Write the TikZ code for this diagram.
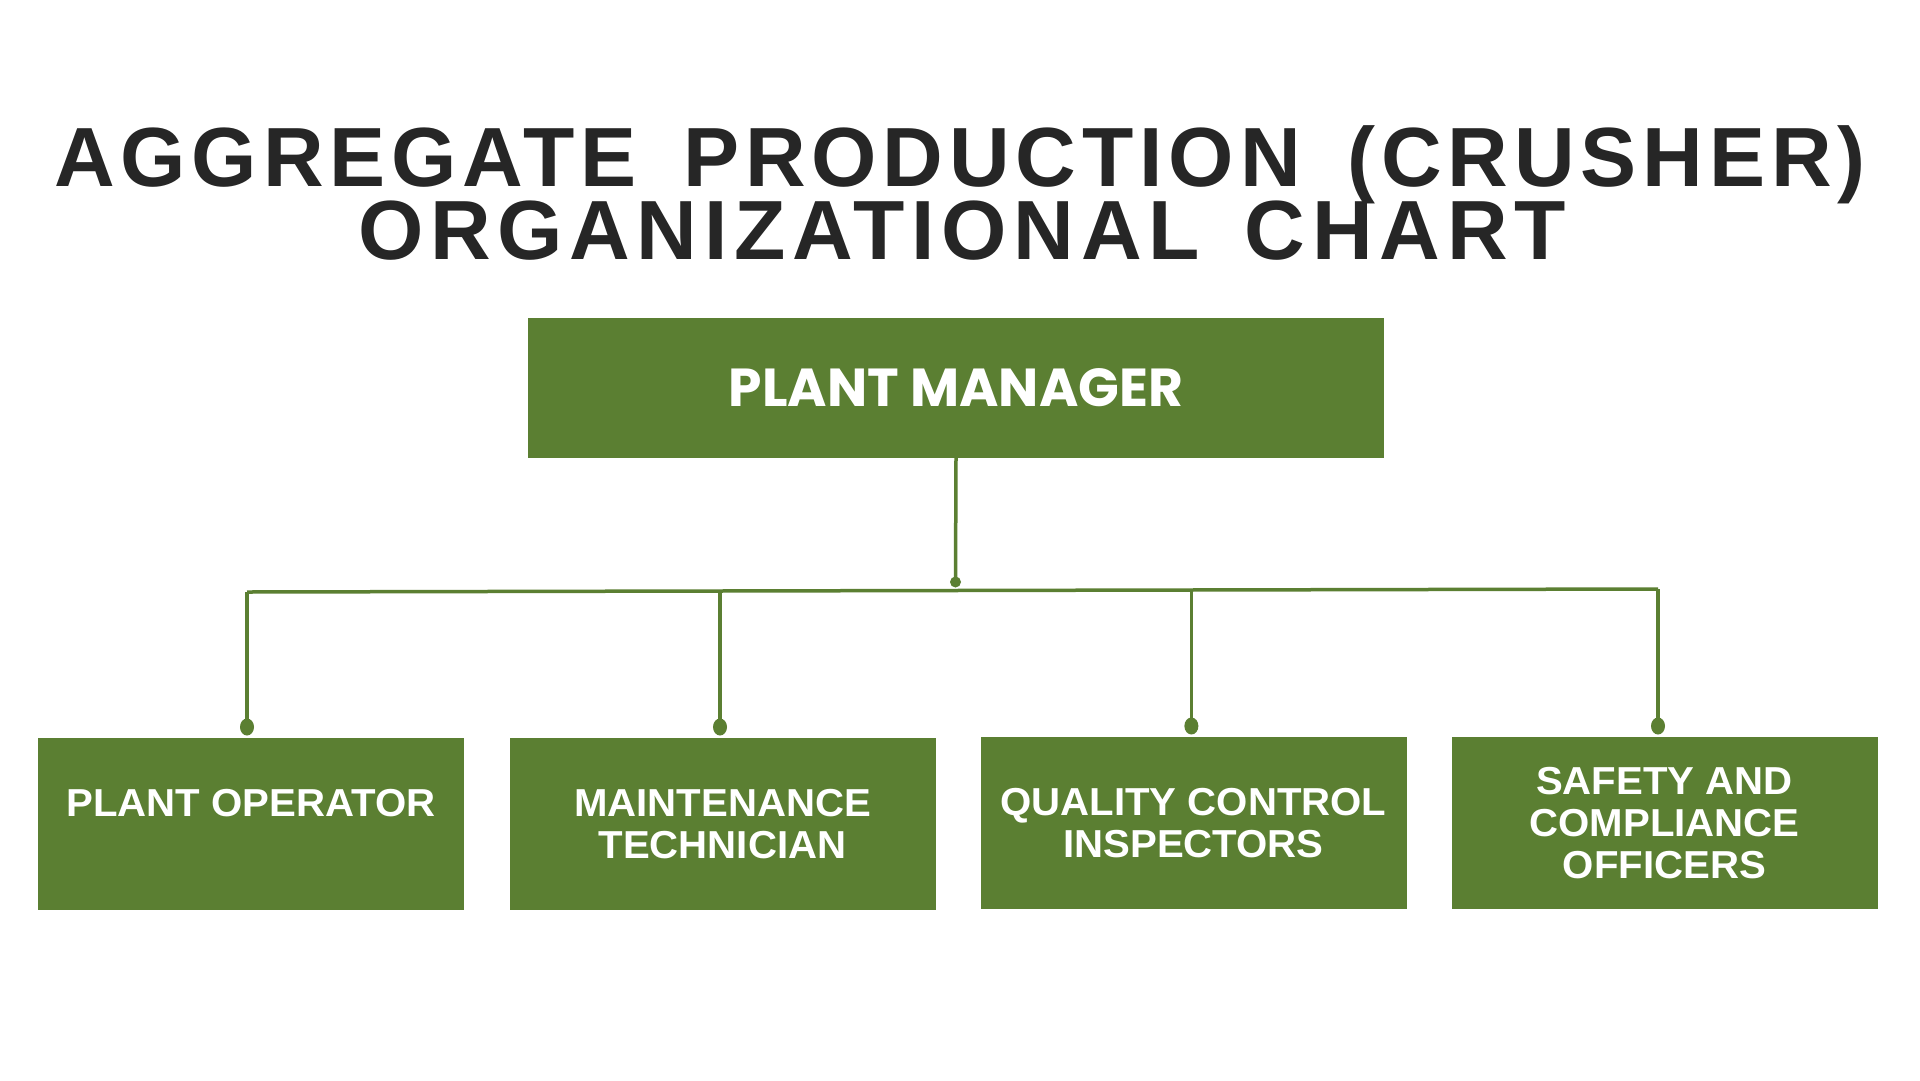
\documentclass[tikz,border=0pt]{standalone}
\usepackage{fontspec}
\newfontfamily\titlefontA[LetterSpace=7.0,WordSpace=1.6]{Liberation Sans}
\newfontfamily\titlefontB[LetterSpace=8.0,WordSpace=1.5]{Liberation Sans}
\newfontfamily\boxfont[FakeStretch=1.03]{Liberation Sans}
\newfontfamily\popfont{Poppins}
\definecolor{leaf}{HTML}{5B7F32}
\definecolor{ink}{HTML}{262626}
\tikzset{
  box/.style={fill=leaf, draw=none, minimum width=426pt, minimum height=172pt, inner sep=0pt,
    text=white, align=center, font=\boxfont\bfseries\fontsize{39}{42}\selectfont},
  conn/.style={draw=leaf, line width=3.5pt},
  ttl/.style={text=ink, anchor=base, inner sep=0pt, text height=60pt, text depth=0pt},
}
\begin{document}
\begin{tikzpicture}[x=1pt,y=-1pt]
\useasboundingbox (0,0) rectangle (1920,1080);
\fill[white] (0,0) rectangle (1920,1080);
% title
\node[ttl, font=\titlefontA\bfseries\fontsize{84}{84}\selectfont] (t1) at (960,186) {AGGREGATE PRODUCTION (CRUSHER)};
\node[ttl, font=\titlefontB\bfseries\fontsize{84}{84}\selectfont] (t2) at (962,259) {ORGANIZATIONAL CHART};
% manager
\node[box, minimum width=856pt, minimum height=140pt, font=\popfont\bfseries\fontsize{53.5}{60}\selectfont] (pm) at (956,388) {PLANT MANAGER};
% boxes
\node[box] (po) at (251,824) {PLANT OPERATOR\\\phantom{X}};
\node[box] (mt) at (722.5,824) {MAINTENANCE\\TECHNICIAN};
\node[box] (qc) at (1193.5,823) {QUALITY CONTROL\\INSPECTORS};
\node[box] (sc) at (1664.5,823) {SAFETY AND\\COMPLIANCE\\OFFICERS};
% connectors
\coordinate (j) at (955.5,582);
\coordinate (a1) at (247,592);
\coordinate (a2) at (720,591);
\coordinate (a3) at (1191.4,590);
\coordinate (a4) at (1658,589);
\coordinate (d1) at (247,727);
\coordinate (d2) at (720,727);
\coordinate (d3) at (1191.4,726);
\coordinate (d4) at (1658,726);
\draw[conn] (pm.south) -- (j);
\draw[conn] (a1) -- (a4);
\draw[conn] (a1) -- (d1);
\draw[conn] (a2) -- (d2);
\draw[conn] (a3) -- (d3);
\draw[conn] (a4) -- (d4);
\fill[leaf] (j) circle (5.5pt);
\foreach \d in {d1,d2,d3,d4} {\fill[leaf] (\d) ellipse (7pt and 8.5pt);}
\end{tikzpicture}
\end{document}
